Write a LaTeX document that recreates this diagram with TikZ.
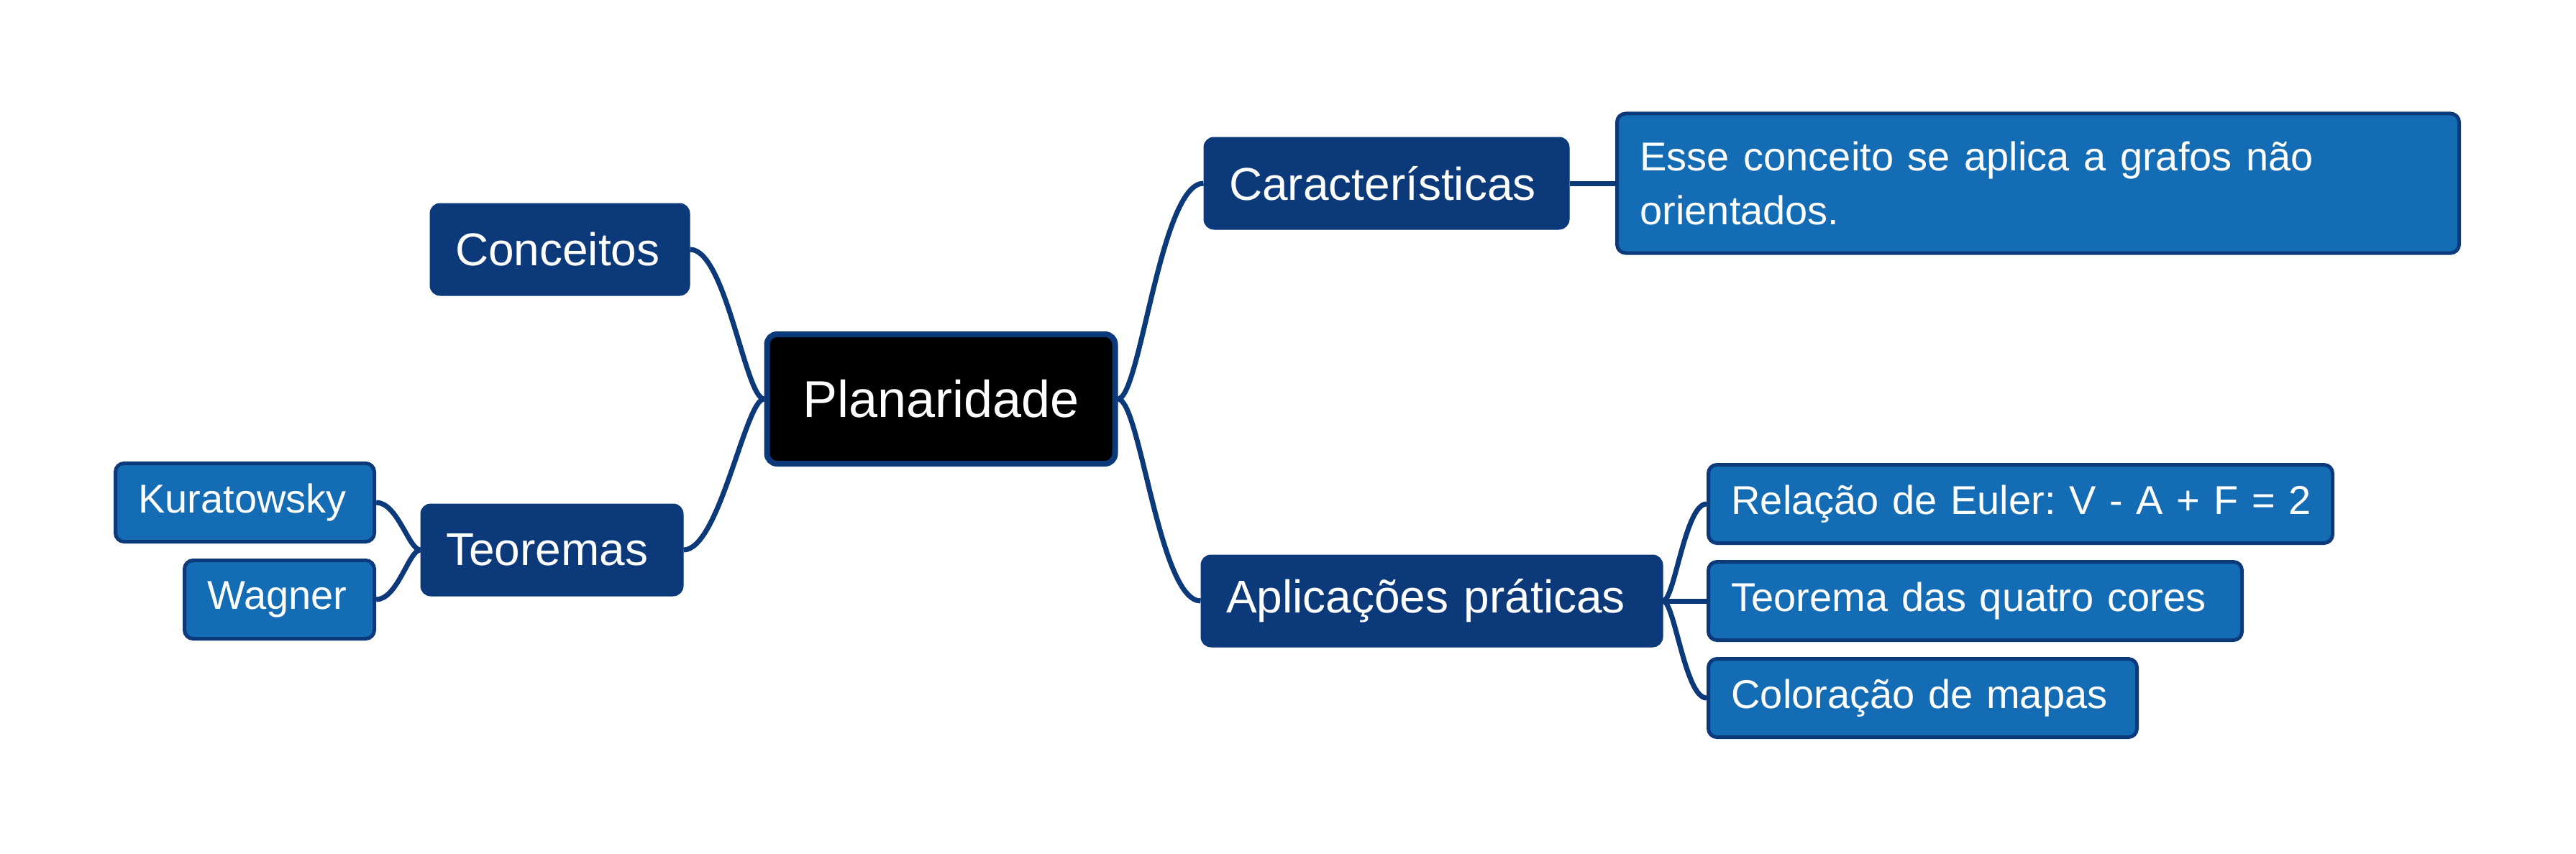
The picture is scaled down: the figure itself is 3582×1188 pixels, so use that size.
\documentclass[tikz,border=0pt]{standalone}
\usepackage{fontspec}
\setmainfont{Liberation Sans}
\definecolor{dblue}{HTML}{0B397A}
\definecolor{lblue}{HTML}{146CB4}
\frenchspacing
\begin{document}
\begin{tikzpicture}[x=0.5pt,y=-0.5pt,
  conn/.style={draw=dblue, line width=3.5pt},
  rootbox/.style={draw=dblue, line width=4pt, fill=black, rounded corners=7pt, text=white,
    font=\fontsize{36}{43}\selectfont\frenchspacing, minimum width=242pt, minimum height=90pt, inner sep=0pt},
  lvone/.style={draw=dblue, line width=0.5pt, fill=dblue, rounded corners=7pt, text=white,
    font=\fontsize{32}{38}\selectfont\frenchspacing, minimum height=64pt, inner xsep=17.5pt, inner ysep=0pt, align=left},
  lvtwo/.style={draw=dblue, line width=2.5pt, fill=lblue, rounded corners=6pt, text=white,
    font=\fontsize{28}{37.5}\selectfont\frenchspacing, minimum height=54.5pt, inner xsep=16pt, inner ysep=0pt, align=left}
]
\useasboundingbox (0,0) rectangle (3582,1188);

\node[rootbox] (root) at (1308.5,555) {Planaridade};

\node[lvone, text width=145.5pt] (con) at (778.5,347) {Conceitos};
\node[lvone, text width=147.5pt] (teo) at (767.5,765) {Teoremas};
\node[lvone, text width=219pt] (car) at (1928,255) {Características};
\node[lvone, text width=286pt] (apl) at (1991,836) {Aplicações práticas};

\node[lvtwo, text width=148pt] (kur) at (340.5,699) {\mbox{Kuratowsky}};
\node[lvtwo, text width=100pt] (wag) at (388.5,834) {\mbox{Wagner}};
\node[lvtwo, text width=553.5pt, minimum height=97pt] (esse) at (2834,255)
  {\spaceskip=9.8pt Esse conceito se aplica a grafos não\\orientados.};
\node[lvtwo, text width=402pt] (rel) at (2809.5,701) {\mbox{Relação de Euler: V - A + F = 2}};
\node[lvtwo, text width=339pt] (teoq) at (2746.5,836) {\mbox{Teorema das quatro cores}};
\node[lvtwo, text width=266pt] (col) at (2673.5,971) {\mbox{Coloração de mapas}};

\draw[conn] (con.east) .. controls +(50,0) and +(-26,0) .. (root.west);
\draw[conn] (teo.east) .. controls +(50,0) and +(-26,0) .. (root.west);
\draw[conn] (root.east) .. controls +(31,0) and +(-60,0) .. (car.west);
\draw[conn] (root.east) .. controls +(31,0) and +(-58,0) .. (apl.west);
\draw[conn] (car.east) -- (esse.west);
\draw[conn] (apl.east) .. controls +(16,0) and +(-30,0) .. (rel.west);
\draw[conn] (apl.east) -- (teoq.west);
\draw[conn] (apl.east) .. controls +(16,0) and +(-30,0) .. (col.west);
\draw[conn] (kur.east) .. controls +(30,0) and +(-16,0) .. (teo.west);
\draw[conn] (wag.east) .. controls +(30,0) and +(-16,0) .. (teo.west);
\end{tikzpicture}
\end{document}
